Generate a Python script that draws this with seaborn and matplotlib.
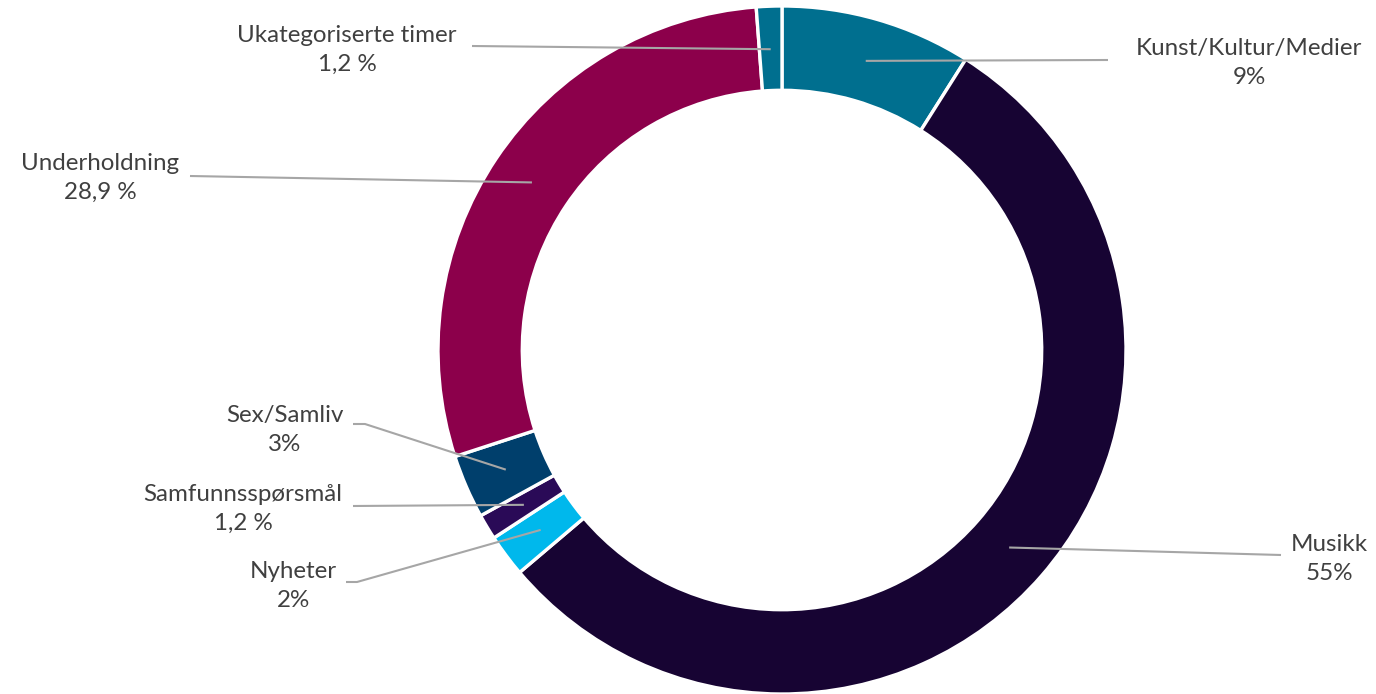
import numpy as np
import matplotlib
matplotlib.use("Agg")
import matplotlib.pyplot as plt
import seaborn as sns

# ---- data ----
categories = ["Kunst/Kultur/Medier", "Musikk", "Nyheter", "Samfunnsspørsmål",
              "Sex/Samliv", "Underholdning", "Ukategoriserte timer"]
values = [9.0, 55.0, 2.0, 1.2, 3.0, 28.9, 1.2]
value_labels = ["9%", "55%", "2%", "1,2 %", "3%", "28,9 %", "1,2 %"]
colors = ["#006F8F", "#170433", "#00B8EC", "#2A0A57", "#003F6C", "#8C004B", "#006F8F"]

sns.set_theme(style="white")
plt.rcParams['font.family'] = ['Lato', 'DejaVu Sans']

W, H = 1376, 694
fig = plt.figure(figsize=(W / 100, H / 100), dpi=100)
ax = fig.add_axes([0, 0, 1, 1])

CX, CY, R = 782, 350, 344  # pixel layout of the donut


def px(x, y):
    return ((x - CX) / R, (CY - y) / R)


wedges, _ = ax.pie(values, colors=colors, startangle=90, counterclock=False,
                   radius=1.0,
                   wedgeprops=dict(width=0.245, edgecolor="white", linewidth=2.4))

# label layout (pixel positions): text center, leader path points (outer end first)
text_pos = [(1249, 63), (1329, 559), (293, 586), (243, 509), (285, 430), (100, 178), (347, 50)]
leader_pts = [
    [(1108, 60)],
    [(1281, 555)],
    [(346, 582), (357, 582)],
    [(353, 506)],
    [(353, 424), (365, 424)],
    [(190, 176)],
    [(472, 46)],
]

for w, cat, vl, tp, pts in zip(wedges, categories, value_labels, text_pos, leader_pts):
    mid = np.deg2rad((w.theta1 + w.theta2) / 2)
    inner = (0.875 * np.cos(mid), 0.875 * np.sin(mid))
    path = [px(*p) for p in pts] + [inner]
    xs, ys = zip(*path)
    ax.plot(xs, ys, color="#A6A6A6", lw=1.5, solid_capstyle="butt", zorder=3)
    tx, ty = px(*tp)
    ax.text(tx, ty, f"{cat}\n{vl}", ha="center", va="center", fontsize=17.4,
            color="#404040", linespacing=1.45)

ax.set_xlim(-CX / R, (W - CX) / R)
ax.set_ylim(-(H - CY) / R, CY / R)
ax.set_aspect("equal")
ax.axis("off")

fig.savefig("out.png", dpi=100, facecolor="white")
